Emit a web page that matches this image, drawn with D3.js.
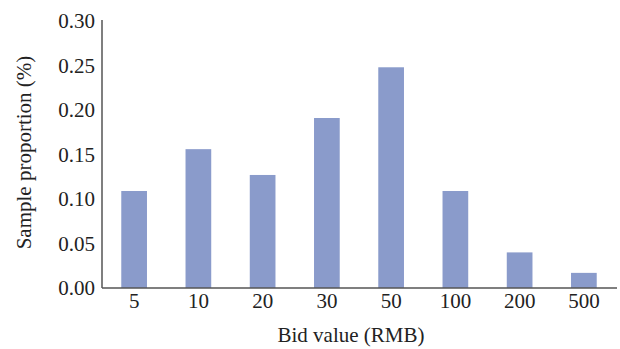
<!DOCTYPE html>
<html><head><meta charset="utf-8">
<script src="https://cdn.jsdelivr.net/npm/d3@7"></script>
<style>body{margin:0;background:#fff} svg text{font-family:'Liberation Serif','Times New Roman',serif !important;}</style>
</head><body><svg id="c" width="620" height="349"></svg>
<script>
const categories = ["5","10","20","30","50","100","200","500"];
const values = [0.109, 0.156, 0.127, 0.191, 0.248, 0.109, 0.040, 0.017];
const yTicks = [0, 0.05, 0.10, 0.15, 0.20, 0.25, 0.30];
const xTitle = "Bid value (RMB)";
const yTitle = "Sample proportion (%)";

const svg = d3.select("#c");
const mLeft = 102, mRight = 616, mTop = 21, mBottom = 288;
const FS = 21;
const x = d3.scaleBand().domain(categories).range([mLeft, mRight]).paddingInner(0.6).paddingOuter(0.3);
const y = d3.scaleLinear().domain([0, 0.30]).range([mBottom, mTop]);

svg.selectAll("rect.bar").data(values).enter().append("rect")
  .attr("class","bar")
  .attr("x",(d,i)=>x(categories[i])).attr("width",x.bandwidth())
  .attr("y",d=>y(d)).attr("height",d=>y(0)-y(d))
  .attr("fill","#8a9bcb");

const yAxis = svg.append("g").attr("transform",`translate(${mLeft},0)`)
  .call(d3.axisLeft(y).tickValues(yTicks).tickFormat(d3.format(".2f")).tickSize(0).tickPadding(7));
const xAxis = svg.append("g").attr("transform",`translate(0,${mBottom})`)
  .call(d3.axisBottom(x).tickSize(0).tickPadding(5));
[yAxis,xAxis].forEach(g=>{
  g.attr("font-family","'Liberation Serif'").attr("font-size",FS);
  g.select(".domain").attr("stroke","#555").attr("stroke-width",1.5);
  g.selectAll("text").attr("fill","#222");
});
yAxis.select(".domain").attr("d",`M0,${mTop-1}V${mBottom}`);
xAxis.select(".domain").attr("d",`M${mLeft},0H${mRight+1}`);

svg.append("text").attr("x",351).attr("y",342).attr("text-anchor","middle")
  .attr("font-size",FS).attr("fill","#222").text(xTitle);
svg.append("text").attr("transform","translate(31,152.5) rotate(-90)").attr("text-anchor","middle")
  .attr("font-size",FS).attr("fill","#222").text(yTitle);

svg.selectAll("text").style("font-family","'Liberation Serif'").style("font-size",FS+"px");
</script></body></html>
